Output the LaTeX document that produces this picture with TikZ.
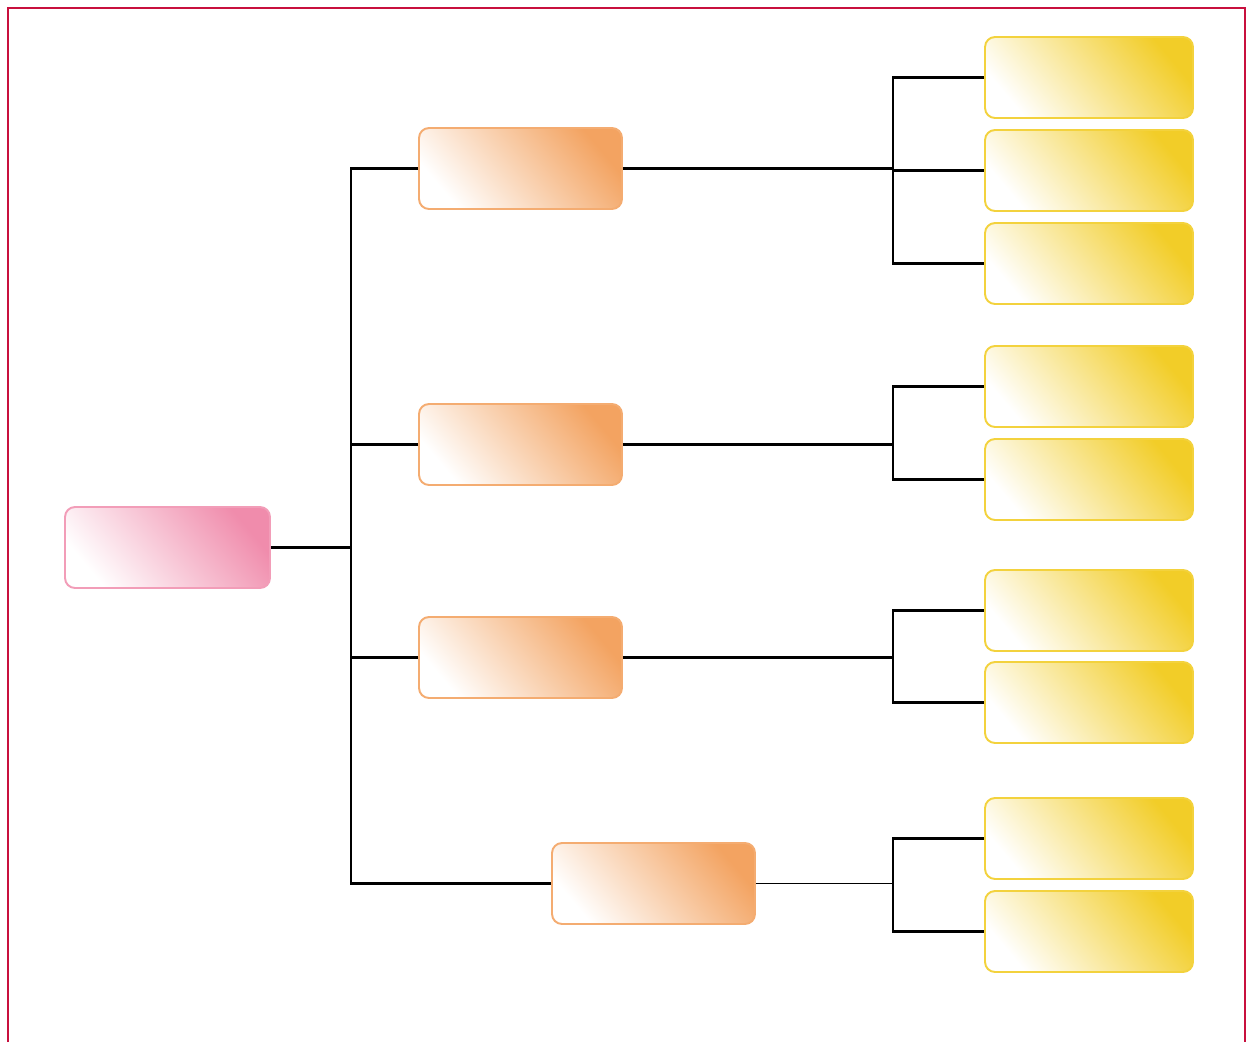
\documentclass[tikz,border=0pt]{standalone}
\usepackage{tikz}
\usetikzlibrary{positioning}
\definecolor{framered}{RGB}{200,16,62}
\definecolor{rootpink}{RGB}{240,140,172}
\definecolor{midorange}{RGB}{243,163,97}
\definecolor{leafyellow}{RGB}{242,205,40}
\tikzset{
  box/.style={rounded corners=0.2cm, line width=1.1pt, minimum height=1.62cm, inner sep=0pt},
  rootbox/.style={box, draw=rootpink!85, bottom color=white, top color=rootpink, shading angle=-50, minimum width=4.1cm},
  midbox/.style={box, draw=midorange!90, bottom color=white, top color=midorange, shading angle=-50, minimum width=4.06cm},
  leafbox/.style={box, draw=leafyellow!90, bottom color=white, top color=leafyellow, shading angle=-50, minimum width=4.16cm},
  link/.style={black, line width=1.3pt},
  thinlink/.style={black, line width=0.7pt}
}

\begin{document}
\begin{tikzpicture}[x=0.02cm, y=-0.02cm]
    \useasboundingbox (0,0) rectangle (1251,1042);
    % frame, open at the bottom
    \draw[framered, line width=1.4pt] (8,1042) -- (8,8) -- (1245,8) -- (1245,1042);

    \node[rootbox] (root) at (167.5,547.5) {};
    \node[midbox] (m1) at (520.5,168.5) {};
    \node[midbox] (m2) at (520.5,444.5) {};
    \node[midbox] (m3) at (520.5,657.5) {};
    \node[midbox] (m4) at (653.5,883.5) {};
    \foreach \y/\n in {77.5/l1, 170.5/l2, 263.5/l3, 386.5/l4, 479.5/l5, 610.5/l6, 702.5/l7, 838.5/l8, 931.5/l9}
        \node[leafbox] (\n) at (1089,\y) {};

    % trunk
    \coordinate (trunk) at (351,547.5);
    \draw[link] (root.east) -- (trunk);
    \draw[link] (trunk) |- (m1.west);
    \draw[link] (trunk) |- (m4.west);
    \draw[link] (trunk |- m2.west) -- (m2.west);
    \draw[link] (trunk |- m3.west) -- (m3.west);

    % brackets
    \coordinate (j1) at (893,170.5);
    \coordinate (j2) at (893,442);
    \coordinate (j3) at (893,662);
    \coordinate (j4) at (893,884);
    \draw[link] (m1.east) -- (m1.east -| j1);
    \draw[link] (l1.west) -| (j1) |- (l3.west);
    \draw[link] (j1) -- (l2.west);
    \draw[link] (m2.east) -- (m2.east -| j2);
    \draw[link] (l4.west) -| (j2) |- (l5.west);
    \draw[link] (m3.east) -- (m3.east -| j3);
    \draw[link] (l6.west) -| (j3) |- (l7.west);
    \draw[thinlink] (m4.east) -- (m4.east -| j4);
    \draw[link] (l8.west) -| (j4) |- (l9.west);
\end{tikzpicture}
\end{document}
